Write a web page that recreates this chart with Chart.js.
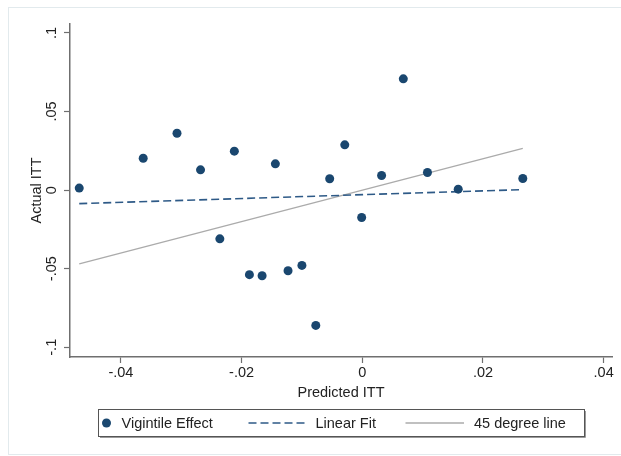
<!DOCTYPE html>
<html>
<head>
<meta charset="utf-8">
<script src="https://cdn.jsdelivr.net/npm/chart.js@4"></script>
<style>
  html, body { margin: 0; padding: 0; background: #fff; }
  #wrap { width: 621px; height: 456px; position: relative; }
</style>
</head>
<body>
<div id="wrap"><canvas id="c" width="621" height="456"></canvas></div>
<script>
// vigintile points
const predicted = [-0.0469, -0.0363, -0.0307, -0.0268, -0.0212, -0.0236, -0.0187, -0.0166, -0.0144, -0.0123,
                   -0.0100, -0.0077, -0.0054, -0.0029, -0.0001, 0.0032, 0.0068, 0.0108, 0.0159, 0.0266];
const actual = [0.0013, 0.0203, 0.0362, 0.0129, 0.0248, -0.0310, -0.0538, -0.0545, 0.0167, -0.0513,
                -0.0479, -0.0861, 0.0072, 0.0288, -0.0174, 0.0093, 0.0708, 0.0112, 0.0006, 0.0074];

// linear fit and 45 degree line end points
const fitX = [-0.0469, 0.0266];
const fitY = [-0.0086, 0.0003];
const degX = [-0.0469, 0.0266];
const degY = [-0.0469, 0.0266];

const xTicks = [-0.04, -0.02, 0, 0.02, 0.04];
const xTickLabels = ['-.04', '-.02', '0', '.02', '.04'];
const yTicks = [-0.1, -0.05, 0, 0.05, 0.1];
const yTickLabels = ['-.1', '-.05', '0', '.05', '.1'];

const legendLabels = ['Vigintile Effect', 'Linear Fit', '45 degree line'];

const NAVY = '#1a476f';
const FONT = "'Liberation Sans', Arial, sans-serif";
const AXIS = '#6f6f6f';

const pts = (xs, ys) => xs.map((x, i) => ({ x, y: ys[i] }));

// light outer frame + boxed legend, stata style
const stataBits = {
  id: 'stataBits',
  beforeDraw(chart) {
    const ctx = chart.ctx;
    ctx.save();
    ctx.fillStyle = '#fff';
    ctx.fillRect(0, 0, chart.width, chart.height);
    ctx.strokeStyle = '#e2eaed';
    ctx.lineWidth = 1;
    ctx.strokeRect(8.5, 7.5, chart.width, chart.height - 9);
    ctx.restore();
  },
  afterDraw(chart) {
    const ctx = chart.ctx;
    const bx = 98.5, by = 409.5, bw = 486, bh = 27, cy = by + bh / 2;
    ctx.save();
    ctx.strokeStyle = '#9a9a9a';
    ctx.lineWidth = 1;
    ctx.beginPath();
    ctx.moveTo(bx + 1.5, by + bh + 1); ctx.lineTo(bx + bw + 1, by + bh + 1); ctx.lineTo(bx + bw + 1, by + 1.5);
    ctx.stroke();
    ctx.strokeStyle = '#555';
    ctx.strokeRect(bx, by, bw, bh);

    ctx.fillStyle = NAVY;
    ctx.beginPath(); ctx.arc(106.5, cy, 4.5, 0, Math.PI * 2); ctx.fill();

    ctx.strokeStyle = '#2e5a87'; ctx.lineWidth = 1.6; ctx.setLineDash([8, 4]);
    ctx.beginPath(); ctx.moveTo(248.5, cy); ctx.lineTo(306, cy); ctx.stroke();
    ctx.setLineDash([]);
    ctx.strokeStyle = '#ababab'; ctx.lineWidth = 1.3;
    ctx.beginPath(); ctx.moveTo(405.5, cy); ctx.lineTo(464, cy); ctx.stroke();

    ctx.fillStyle = '#222';
    ctx.font = '14.5px ' + FONT;
    ctx.textBaseline = 'middle';
    ctx.fillText(legendLabels[0], 121.5, cy + 0.5);
    ctx.fillText(legendLabels[1], 315.5, cy + 0.5);
    ctx.fillText(legendLabels[2], 474, cy + 0.5);
    ctx.restore();
  }
};

new Chart(document.getElementById('c'), {
  type: 'scatter',
  data: {
    datasets: [
      {
        label: legendLabels[0],
        data: pts(predicted, actual),
        backgroundColor: NAVY,
        borderWidth: 0,
        pointRadius: 4.5
      },
      {
        label: legendLabels[1],
        type: 'line',
        data: pts(fitX, fitY),
        borderColor: '#2e5a87',
        borderWidth: 1.6,
        borderDash: [8, 4],
        pointRadius: 0,
        fill: false
      },
      {
        label: legendLabels[2],
        type: 'line',
        data: pts(degX, degY),
        borderColor: '#ababab',
        borderWidth: 1.3,
        pointRadius: 0,
        fill: false
      }
    ]
  },
  options: {
    responsive: false,
    animation: false,
    layout: { padding: { left: 10, right: 9, top: 24, bottom: 54 } },
    plugins: { legend: { display: false }, tooltip: { enabled: false } },
    scales: {
      x: {
        type: 'linear',
        min: -0.04843, max: 0.04138,
        afterBuildTicks: s => { s.ticks = xTicks.map(v => ({ value: v })); },
        afterFit: s => { s.height = 45; },
        border: { color: AXIS, width: 1.5 },
        grid: { drawOnChartArea: false, tickLength: 6, tickColor: AXIS, tickWidth: 1.2 },
        ticks: {
          color: '#222', font: { family: FONT, size: 14.5 }, padding: 1, maxRotation: 0,
          callback: (v, i) => xTickLabels[i]
        },
        title: { display: true, text: 'Predicted ITT', color: '#222', font: { family: FONT, size: 14.5 }, padding: { top: 0, bottom: 0 } }
      },
      y: {
        type: 'linear',
        min: -0.1062, max: 0.1057,
        afterBuildTicks: s => { s.ticks = yTicks.map(v => ({ value: v })); },
        afterFit: s => { s.width = 60; },
        border: { color: AXIS, width: 1.5 },
        grid: { drawOnChartArea: false, tickLength: 6, tickColor: AXIS, tickWidth: 1.2 },
        ticks: {
          color: '#222', font: { family: FONT, size: 14.5 }, padding: 0,
          minRotation: 90, maxRotation: 90, crossAlign: 'center',
          callback: (v, i) => yTickLabels[i]
        },
        title: { display: true, text: 'Actual ITT', color: '#222', font: { family: FONT, size: 14.5 }, padding: { top: 18, bottom: 0 } }
      }
    }
  },
  plugins: [stataBits]
});
</script>
</body>
</html>
